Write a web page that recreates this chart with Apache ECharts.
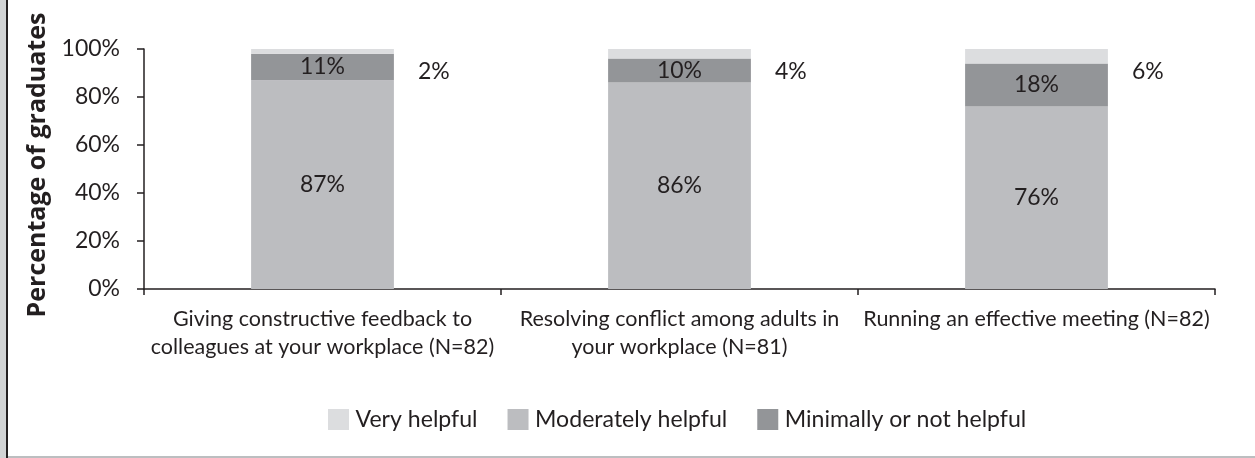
<!DOCTYPE html>
<html>
<head>
<meta charset="utf-8">
<script src="https://cdn.jsdelivr.net/npm/echarts@6/dist/echarts.min.js"></script>
<style>
html,body{margin:0;padding:0;background:#fff;}
#chart{width:1255px;height:458px;}
</style>
</head>
<body>
<div id="chart"></div>
<script>
const categories = [
  "Giving constructive feedback to\ncolleagues at your workplace (N=82)",
  "Resolving conflict among adults in\nyour workplace (N=81)",
  "Running an effective meeting (N=82)"
];
const moderatelyHelpful = [87, 86, 76];
const minimallyHelpful = [11, 10, 18];
const veryHelpful = [2, 4, 6];
const yTicks = [0, 20, 40, 60, 80, 100];

const FONT = "Lato";
const TXT = "#231f20";
const C_VERY = "#dcdddf";
const C_MOD = "#bcbdc0";
const C_MIN = "#939598";

const chart = echarts.init(document.getElementById('chart'));
const pxPerUnit = 2.4;
const outsideLabelLevel = 90.4;

chart.setOption({
  animation: false,
  textStyle: { fontFamily: FONT, color: TXT },
  grid: { left: 144, right: 40, top: 49, bottom: 169, containLabel: false },
  legend: {
    data: ["Very helpful", "Moderately helpful", "Minimally or not helpful"],
    top: 403,
    left: 323,
    itemWidth: 21,
    itemHeight: 21,
    itemGap: 30,
    icon: 'rect',
    textStyle: { fontFamily: FONT, fontSize: 23.1, color: TXT, padding: [0, 0, 0, 1.5] }
  },
  xAxis: {
    type: 'category',
    data: categories,
    axisLine: { lineStyle: { color: TXT, width: 1.5 } },
    axisTick: { show: true, length: 6, alignWithLabel: false, lineStyle: { color: TXT, width: 1.5 } },
    axisLabel: { fontFamily: FONT, fontSize: 21.5, color: TXT, lineHeight: 28, margin: 16, interval: 0 }
  },
  yAxis: {
    type: 'value',
    min: 0, max: 100, interval: 20,
    name: 'Percentage of graduates',
    nameLocation: 'middle',
    nameGap: 90,
    nameRotate: 90,
    nameTextStyle: { fontFamily: "'Open Sans'", fontSize: 25, fontWeight: 'bold', color: TXT, padding: [0, 0, 0, 8] },
    axisLine: { show: true, lineStyle: { color: TXT, width: 1.5 } },
    axisTick: { show: true, length: 7, lineStyle: { color: TXT, width: 1.5 } },
    splitLine: { show: false },
    axisLabel: { fontFamily: FONT, fontSize: 23, color: TXT, margin: 24,
      formatter: v => yTicks.includes(v) ? v + '%' : '' }
  },
  series: [
    {
      name: 'Moderately helpful', type: 'bar', stack: 's', barWidth: '40%',
      data: moderatelyHelpful,
      itemStyle: { color: C_MOD },
      label: { show: true, position: 'inside', formatter: '{c}%', fontFamily: FONT, fontSize: 23, color: TXT }
    },
    {
      name: 'Minimally or not helpful', type: 'bar', stack: 's',
      data: minimallyHelpful,
      itemStyle: { color: C_MIN },
      label: { show: true, position: 'inside', formatter: '{c}%', fontFamily: FONT, fontSize: 23, color: TXT }
    },
    {
      name: 'Very helpful', type: 'bar', stack: 's',
      data: veryHelpful.map(v => ({
        value: v,
        label: { offset: [0, (100 - v / 2 - outsideLabelLevel) * pxPerUnit] }
      })),
      itemStyle: { color: C_VERY },
      label: { show: true, position: 'right', distance: 24, formatter: '{c}%', fontFamily: FONT, fontSize: 23, color: TXT }
    }
  ],
  graphic: [
    { type: 'rect', left: 0, top: 0, shape: { width: 6, height: 458 }, style: { fill: '#d1d3d4' }, silent: true },
    { type: 'rect', left: 6, top: 0, shape: { width: 2, height: 458 }, style: { fill: TXT }, silent: true },
    { type: 'rect', left: 8, top: 456, shape: { width: 1247, height: 2 }, style: { fill: '#bcbec0' }, silent: true }
  ]
});
</script>
</body>
</html>
